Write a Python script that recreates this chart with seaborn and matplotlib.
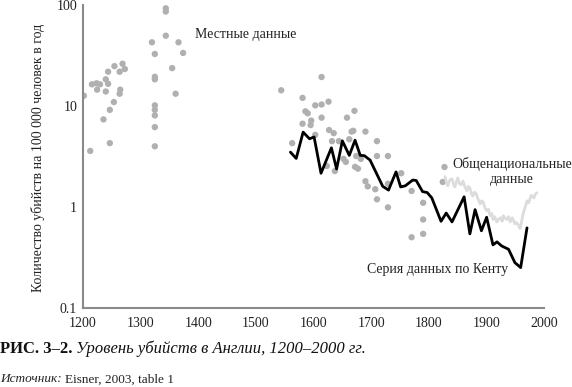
import matplotlib
matplotlib.use("Agg")
import matplotlib.pyplot as plt
import matplotlib.ticker as mticker
import seaborn as sns

# ---------------- data ----------------
# local (gray dots): year, homicides per 100 000
local_year = [1202, 1213, 1216, 1224, 1225, 1230, 1236, 1240, 1240, 1244,
              1244, 1247, 1247, 1254, 1255, 1264, 1265, 1264, 1269, 1273,
              1320, 1325, 1325, 1325, 1325, 1325, 1325, 1325, 1325, 1344,
              1344, 1344, 1355, 1361, 1366, 1374,
              1544, 1563, 1581, 1581, 1586, 1590, 1595, 1596, 1603, 1603,
              1614, 1614, 1614, 1623, 1626, 1627, 1632, 1635, 1637, 1644,
              1652, 1656, 1658, 1662, 1666, 1669, 1671, 1672, 1674, 1677,
              1682, 1690, 1690, 1694, 1707, 1710, 1710, 1710, 1729, 1729,
              1729, 1752, 1770, 1770, 1790, 1790, 1790, 1824, 1827]
local_rate = [12.7, 3.6, 16.5, 16.9, 14.6, 16.5, 7.4, 18.5, 14.0, 22.0,
              16.7, 9.2, 4.3, 11.0, 25.0, 22.0, 14.6, 13.3, 26.4, 23.4,
              43.1, 33.0, 19.6, 18.5, 10.2, 9.2, 8.1, 6.2, 4.0, 93.8,
              87.1, 50.1, 23.9, 13.3, 43.1, 33.8,
              14.4, 4.3, 6.7, 12.1, 8.9, 8.5, 6.5, 7.2, 10.2, 5.2,
              19.5, 10.4, 7.7, 2.55, 11.1, 5.8, 4.5, 5.4, 2.27, 4.5,
              3.0, 2.8, 7.7, 4.7, 5.6, 5.7, 9.0, 2.5, 3.2, 2.4,
              3.0, 5.6, 1.8, 1.6, 1.5, 4.5, 3.2, 1.19, 3.2, 1.7,
              0.99, 2.16, 1.44, 0.50, 1.10, 0.75, 0.54, 1.77, 2.49]

# national series (light gray line)
nat_year = [1828, 1831, 1833, 1836, 1840, 1843, 1845, 1848, 1850, 1853,
            1856, 1859, 1862, 1866, 1868, 1871, 1874, 1876, 1879, 1882,
            1885, 1889, 1891, 1894, 1897, 1900, 1903, 1906, 1909, 1911,
            1914, 1918, 1921, 1924, 1927, 1929, 1932, 1935, 1938, 1941,
            1944, 1946, 1949, 1952, 1955, 1958, 1961, 1963, 1965, 1968,
            1970, 1973, 1975, 1977, 1979, 1982, 1984, 1987]
nat_rate = [2.0, 1.7, 1.62, 1.85, 1.9, 1.65, 1.58, 1.8, 1.94, 1.7,
            1.66, 1.81, 1.6, 1.44, 1.6, 1.54, 1.35, 1.28, 1.4, 1.35,
            1.2, 1.07, 1.15, 1.12, 0.98, 0.92, 0.95, 0.82, 0.86, 0.75,
            0.8, 0.71, 0.76, 0.78, 0.72, 0.82, 0.77, 0.75, 0.8, 0.71,
            0.78, 0.75, 0.68, 0.70, 0.66, 0.61, 0.73, 0.85, 0.92, 1.05,
            1.15, 1.1, 1.2, 1.3, 1.28, 1.23, 1.33, 1.38]

# Kent series (black line)
kent_year = [1560, 1570, 1582, 1593, 1601, 1613, 1631, 1640, 1650, 1662,
             1672, 1681, 1688, 1698, 1720, 1730, 1743, 1751, 1759, 1772,
             1778, 1789, 1797, 1805, 1821, 1830, 1840, 1861, 1871, 1880,
             1891, 1900, 1911, 1918, 1926, 1938, 1949, 1959, 1970]
kent_rate = [3.50, 3.03, 5.53, 4.75, 4.95, 2.16, 3.86, 2.38, 4.53, 3.25,
             4.60, 3.25, 3.23, 2.92, 1.60, 1.47, 2.23, 1.58, 1.62, 1.85,
             1.83, 1.42, 1.39, 1.23, 0.72, 0.87, 0.71, 1.26, 0.54, 0.94,
             0.58, 0.79, 0.42, 0.45, 0.41, 0.38, 0.28, 0.25, 0.62]

x_ticks = list(range(1200, 2001, 100))
y_ticks = [0.1, 1, 10, 100]
y_tick_labels = ["0.1", "1", "10", "100"]

# ---------------- plot ----------------
sns.set_style("white")
plt.rcParams["font.family"] = ["Liberation Serif", "DejaVu Serif"]

fig, ax = plt.subplots(figsize=(5.72, 3.87), dpi=100)
fig.subplots_adjust(left=0.1446, right=0.9516, bottom=0.205, top=0.9858)

sns.scatterplot(x=local_year, y=local_rate, color="#b0b0b0", s=21,
                edgecolor="none", ax=ax, zorder=2)
sns.lineplot(x=nat_year, y=nat_rate, color="#dcdcdc", lw=2, ax=ax, zorder=3)
sns.lineplot(x=kent_year, y=kent_rate, color="black", lw=2, ax=ax, zorder=4)

ax.set_yscale("log")
ax.set_xlim(1200, 2000)
ax.set_ylim(0.1, 100)
ax.set_xticks(x_ticks)
ax.set_yticks(y_ticks)
ax.set_yticklabels(y_tick_labels)
ax.yaxis.set_minor_locator(mticker.NullLocator())

for side in ["top", "right"]:
    ax.spines[side].set_visible(False)
for side in ["left", "bottom"]:
    ax.spines[side].set_color("#8a8a8a")
    ax.spines[side].set_linewidth(1.5)

ax.tick_params(direction="in", length=4, width=1, color="#8a8a8a",
               labelsize=10, labelcolor="#222222")
ax.tick_params(axis="x", pad=7)
ax.tick_params(axis="y", pad=4)

ax.set_ylabel("Количество убийств на 100 000 человек в год", fontsize=10,
              color="#222222")
ax.yaxis.set_label_coords(-0.0815, 0.496)
ax.set_xlabel("")

ax.text(1395, 52, "Местные данные", fontsize=10, va="center", ha="left",
        color="#222222")
ax.text(1944, 2.25, "Общенациональные\nданные", fontsize=10, va="center",
        ha="center", color="#222222", linespacing=1.25)
ax.text(1693, 0.24, "Серия данных по Кенту", fontsize=10, va="center",
        ha="left", color="#222222")

# caption
fig.text(0.0, 0.098, "РИС. 3–2.", fontsize=12, fontweight="bold",
         va="center", ha="left", color="#111111")
fig.text(76 / 572, 0.098, "Уровень убийств в Англии, 1200–2000 гг.",
         fontsize=12, style="italic", va="center", ha="left", color="#111111")
fig.text(0.0, 0.02, "Источник:", fontsize=9.5, style="italic",
         va="center", ha="left", color="#222222")
fig.text(65 / 572, 0.02, "Eisner, 2003, table 1", fontsize=9.5,
         va="center", ha="left", color="#222222")

fig.savefig("out.png", dpi=100)
